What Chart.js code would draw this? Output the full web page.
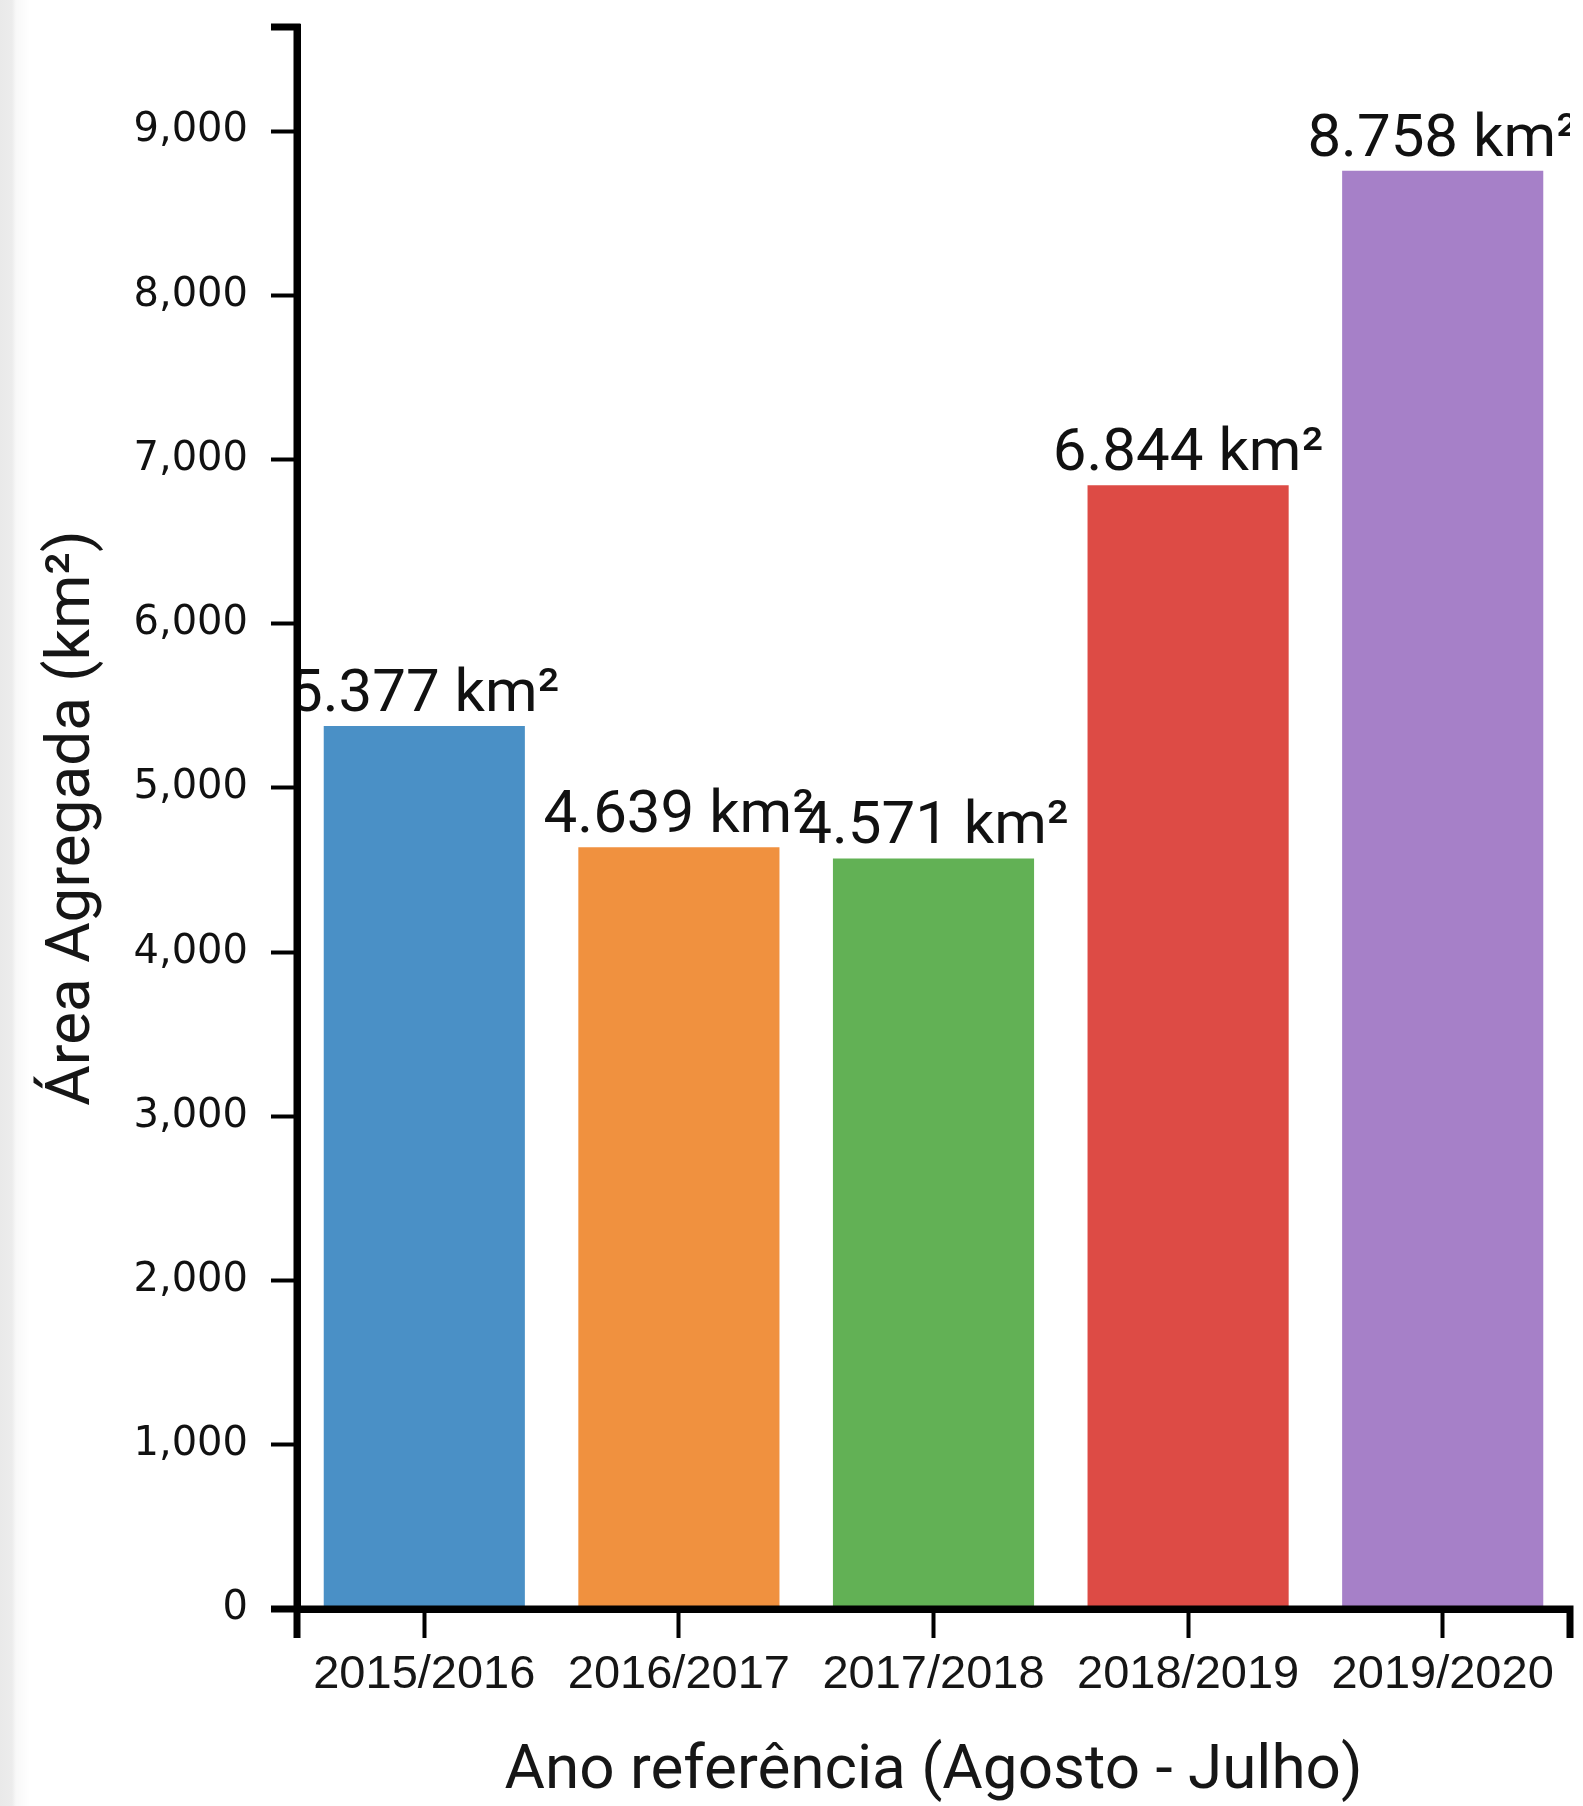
<!DOCTYPE html>
<html>
<head>
<meta charset="utf-8">
<script src="https://cdn.jsdelivr.net/npm/chart.js@4.4.1/dist/chart.umd.min.js"></script>
<style>
  html, body { margin: 0; padding: 0; background: #fff; }
  #wrap { position: relative; width: 1583px; height: 1806px; overflow: hidden; }
  #stripe { position: absolute; left: 0; top: 0; width: 30px; height: 1806px;
    background: linear-gradient(to right, #e9e9e9 0, #ececec 12px, #f8f8f8 16px, #fff 30px); }
  #areaChart { position: absolute; left: 0; top: 0; }
</style>
</head>
<body>
<div id="wrap">
  <div id="stripe"></div>
  <canvas id="areaChart" width="1583" height="1806"></canvas>
</div>
<script>
"use strict";
// ========== DATA ========== //
const years = ["2015/2016", "2016/2017", "2017/2018", "2018/2019", "2019/2020"];
const areas = [5377, 4639, 4571, 6844, 8758]; // km²
const barColors = ["#4a90c6", "#f0913f", "#62b155", "#dd4b45", "#a680c8"];
const yTicks = [0, 1000, 2000, 3000, 4000, 5000, 6000, 7000, 8000, 9000];
const yMax = 9634; // top of the axis

// 8758 -> "8.758 km²"
function formatKm(value) {
  return String(value).replace(/\B(?=(\d{3})+(?!\d))/g, ".") + " km²";
}

// value labels above each bar, clipped to the plot area
const barLabels = {
  id: "barLabels",
  afterDatasetsDraw(chart) {
    const { ctx, chartArea } = chart;
    const meta = chart.getDatasetMeta(0);
    ctx.save();
    ctx.beginPath();
    ctx.rect(chartArea.left, 0, chartArea.right - chartArea.left, chart.height);
    ctx.clip();
    ctx.font = "60px Roboto";
    ctx.fillStyle = "#111";
    ctx.textAlign = "center";
    ctx.textBaseline = "alphabetic";
    meta.data.forEach((bar, i) => {
      ctx.fillText(formatKm(areas[i]), bar.x, bar.y - 15);
    });
    ctx.restore();
  }
};

// d3 style axis lines with the outer ticks at both ends
const domainLines = {
  id: "domainLines",
  afterDraw(chart) {
    const { ctx, chartArea: { left, right, top, bottom } } = chart;
    ctx.save();
    ctx.strokeStyle = "#000";
    ctx.lineWidth = 7;
    ctx.lineJoin = "miter";
    ctx.beginPath();
    ctx.moveTo(left - 26, top);
    ctx.lineTo(left, top);
    ctx.lineTo(left, bottom);
    ctx.lineTo(left - 26, bottom);
    ctx.moveTo(left, bottom + 29);
    ctx.lineTo(left, bottom);
    ctx.lineTo(right, bottom);
    ctx.lineTo(right, bottom + 29);
    ctx.stroke();
    ctx.restore();
  }
};

const chartContainer = document.querySelector("#areaChart");
const chart = new Chart(chartContainer, {
  type: "bar",
  data: {
    labels: years,
    datasets: [{
      data: areas,
      backgroundColor: barColors,
      borderWidth: 0,
      barPercentage: 0.79,
      categoryPercentage: 1
    }]
  },
  options: {
    responsive: false,
    maintainAspectRatio: false,
    animation: false,
    devicePixelRatio: 1,
    layout: { padding: { top: 27, right: 13, left: 0, bottom: 0 } },
    plugins: {
      legend: { display: false },
      tooltip: { enabled: false }
    },
    scales: {
      x: {
        afterFit(scale) { scale.height = 197; },
        grid: {
          offset: false,
          drawOnChartArea: false,
          drawTicks: true,
          tickLength: 29,
          tickWidth: 4,
          tickColor: "#000"
        },
        border: { display: true, color: "#000", width: 7 },
        ticks: {
          color: "#161616",
          padding: 9,
          maxRotation: 0,
          font: { family: "Liberation Sans", size: 47 }
        },
        title: {
          display: true,
          text: "Ano referência (Agosto - Julho)",
          color: "#161616",
          padding: { top: 0, bottom: 3 },
          font: { family: "Roboto", size: 62, lineHeight: 1 }
        }
      },
      y: {
        min: 0,
        max: yMax,
        afterFit(scale) {
          scale.width = 297;
          scale.paddingTop = 0; // the top label sits well below the axis end
        },
        afterBuildTicks(scale) { scale.ticks = yTicks.map(v => ({ value: v })); },
        grid: {
          drawOnChartArea: false,
          drawTicks: true,
          tickLength: 26,
          tickWidth: 4,
          tickColor: "#000"
        },
        border: { display: true, color: "#000", width: 7 },
        ticks: {
          color: "#111",
          padding: 23,
          font: { family: "DejaVu Sans", size: 40 },
          callback: value => value.toLocaleString("en-US")
        },
        title: {
          display: true,
          text: "Área Agregada (km²)",
          color: "#161616",
          padding: { top: 36, bottom: 0 },
          font: { family: "Roboto", size: 62 }
        }
      }
    }
  },
  plugins: [barLabels, domainLines]
});
</script>
</body>
</html>
